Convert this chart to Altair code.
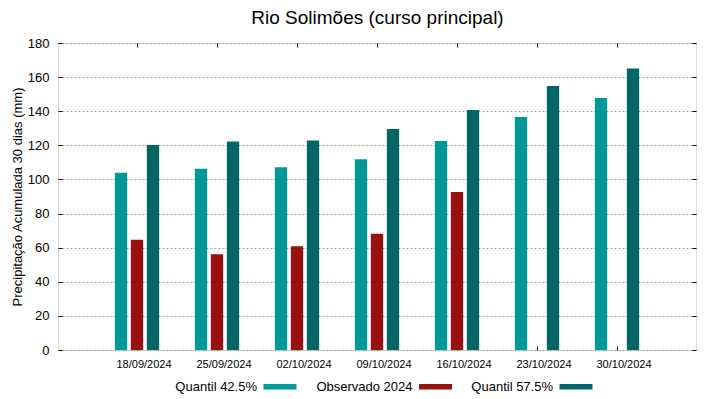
import altair as alt
import pandas as pd

dates = ["18/09/2024", "25/09/2024", "02/10/2024", "09/10/2024",
         "16/10/2024", "23/10/2024", "30/10/2024"]
series = ["Quantil 42.5%", "Observado 2024", "Quantil 57.5%"]
colors = ["#009999", "#991010", "#006666"]
title_text = "Rio Solimões (curso principal)"

q425 = [103.9, 106.2, 107.1, 111.8, 122.6, 136.6, 147.8]
obs = [64.6, 56.2, 60.9, 68.1, 92.7, None, None]
q575 = [120.2, 122.2, 122.8, 129.6, 140.7, 154.8, 165.1]

rows = []
for s, vals in zip(series, [q425, obs, q575]):
    for d, v in zip(dates, vals):
        if v is not None:
            rows.append({"date": d, "series": s, "value": v})
df = pd.DataFrame(rows)

FONT = "Liberation Sans"

xscale = alt.Scale(paddingInner=0.4, paddingOuter=0.6875)
yscale = alt.Scale(domain=[0, 180], nice=False)

bottom_axis = alt.Axis(title=None, labelAngle=0, labelFontSize=11, labelFont=FONT,
                       labelColor="#000", labelOffset=7, labelPadding=8,
                       domain=False, ticks=True, tickSize=4, offset=-4,
                       tickColor="#000", grid=False)
left_axis = alt.Axis(title="Precipitação Acumulada 30 dias (mm)", values=list(range(0, 181, 20)),
                     labelFontSize=13, labelFont=FONT, labelColor="#000", labelPadding=9,
                     titleFont=FONT, titleFontSize=13, titleFontWeight="normal",
                     titleColor="#000", titlePadding=3,
                     domain=False, ticks=True, tickSize=4, offset=-4, tickColor="#000",
                     grid=True, gridColor="#a0a0a0", gridDash=[2, 2], gridWidth=1)
top_axis = alt.Axis(orient="top", title=title_text, titleFont=FONT, titleFontSize=19,
                    titleFontWeight="normal", titleColor="#000", titlePadding=15,
                    labels=False, domain=False, ticks=True,
                    tickSize=4, offset=-4, tickColor="#000", grid=False)
right_axis = alt.Axis(orient="right", title=None, labels=False, domain=False, ticks=True,
                      values=list(range(0, 181, 20)),
                      tickSize=4, offset=-4, tickColor="#000", grid=False)

mirror = alt.Chart(df).mark_bar(opacity=0).encode(
    x=alt.X("date:N", sort=dates, scale=xscale, axis=top_axis),
    y=alt.Y("value:Q", scale=yscale, axis=right_axis),
)

bars = alt.Chart(df).mark_bar().encode(
    x=alt.X("date:N", sort=dates, scale=xscale, axis=bottom_axis),
    xOffset=alt.XOffset("series:N", sort=series,
                        scale=alt.Scale(domain=series, paddingInner=0.23, paddingOuter=0.115)),
    y=alt.Y("value:Q", scale=yscale, axis=left_axis),
    color=alt.Color("series:N", scale=alt.Scale(domain=series, range=colors),
                    legend=alt.Legend(title=None, orient="none", direction="horizontal",
                                      legendX=186, legendY=337,
                                      symbolType="M2.6,-0.56H9.2V0.56H2.6Z", symbolSize=100,
                                      symbolStrokeWidth=0, labelAlign="right",
                                      labelOffset=0, symbolOffset=0, columnPadding=18.5,
                                      labelFontSize=13, labelFont=FONT, labelColor="#000",
                                      labelLimit=200)),
)

chart = alt.layer(mirror, bars).resolve_axis(x="independent", y="independent").properties(
    width=638, height=307,
    autosize=alt.AutoSizeParams(type="none"),
    padding={"left": 50, "top": 35, "right": 15, "bottom": 48},
).configure_view(stroke="#000", strokeWidth=1).configure(background="white")

chart.save("out.html", embed_options={"renderer": "svg", "actions": False})
